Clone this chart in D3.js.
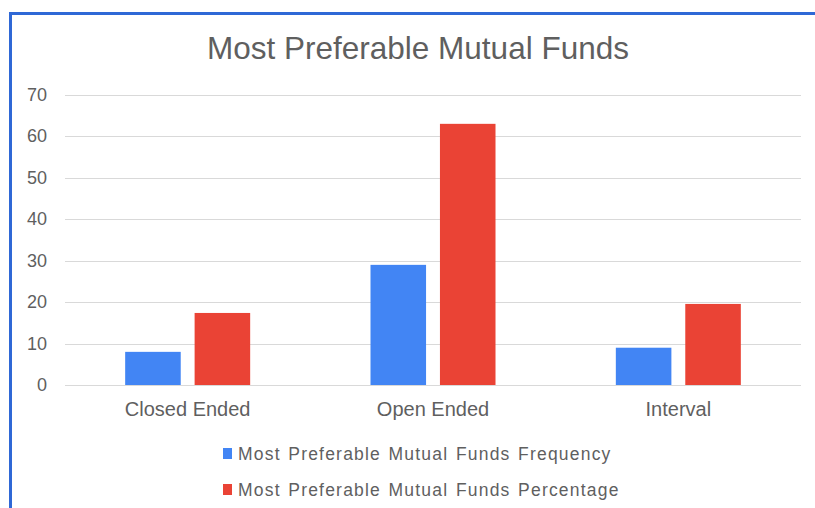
<!DOCTYPE html>
<html>
<head>
<meta charset="utf-8">
<script src="https://cdn.jsdelivr.net/npm/d3@7"></script>
<style>
  body { margin: 0; background: #fff; }
  svg { display: block; font-family: 'Liberation Sans', Arial, sans-serif; }
  .grid line { stroke: #d9d9d9; stroke-width: 1; }
  .tick-lbl { fill: #5f5f5f; font-size: 18px; }
  .cat-lbl { fill: #5f5f5f; font-size: 20px; }
  .leg-lbl { fill: #5f5f5f; font-size: 17.5px; letter-spacing: 1.2px; word-spacing: 1.5px; }
</style>
</head>
<body>
<svg id="svg" width="815" height="508"></svg>
<script>
const categories = ['Closed Ended', 'Open Ended', 'Interval']
const seriesNames = ['Most Preferable Mutual Funds Frequency', 'Most Preferable Mutual Funds Percentage']
const frequency = [8, 29, 9]
const percentage = [17.39, 63.04, 19.57]
const yTicks = [0, 10, 20, 30, 40, 50, 60, 70]
const colors = ['#4285f4', '#ea4335']

const PLOT_L = 65
const PLOT_R = 801
const PLOT_T = 95
const PLOT_B = 385

const svg = d3.select('svg')

// frame
svg.append('rect')
  .attr('x', 10.5).attr('y', 13.5)
  .attr('width', 900).attr('height', 600)
  .attr('fill', '#fff')
  .attr('stroke', '#2f68d6')
  .attr('stroke-width', 3)

svg.append('text')
  .attr('x', 418).attr('y', 59)
  .attr('text-anchor', 'middle')
  .attr('fill', '#5f5f5f')
  .style('font-size', '31.5px')
  .text('Most Preferable Mutual Funds')

const y = d3.scaleLinear().domain([0, 70]).range([PLOT_B, PLOT_T])
const x0 = d3.scaleBand().domain(categories).range([PLOT_L, PLOT_R])
const groupW = 125
const x1 = d3.scaleBand().domain([0, 1]).range([0, groupW]).paddingInner(0.2)

const grid = svg.append('g').attr('class', 'grid')
grid.selectAll('line').data(yTicks).join('line')
  .attr('x1', PLOT_L).attr('x2', PLOT_R)
  .attr('y1', d => Math.round(y(d)) + 0.5)
  .attr('y2', d => Math.round(y(d)) + 0.5)

svg.append('g').selectAll('text').data(yTicks).join('text')
  .attr('class', 'tick-lbl')
  .attr('x', 47)
  .attr('y', d => y(d) + 6)
  .attr('text-anchor', 'end')
  .text(d => d)

const rows = categories.map((c, i) => ({ cat: c, vals: [frequency[i], percentage[i]] }))

const groups = svg.append('g').selectAll('g').data(rows).join('g')
  .attr('transform', d => 'translate(' + (x0(d.cat) + (x0.bandwidth() - groupW) / 2) + ',0)')

groups.selectAll('rect').data(d => d.vals.map((v, k) => ({ v, k }))).join('rect')
  .attr('x', d => x1(d.k))
  .attr('width', x1.bandwidth())
  .attr('y', d => y(d.v))
  .attr('height', d => y(0) - y(d.v))
  .attr('fill', d => colors[d.k])

svg.append('g').selectAll('text').data(categories).join('text')
  .attr('class', 'cat-lbl')
  .attr('x', d => x0(d) + x0.bandwidth() / 2)
  .attr('y', 416)
  .attr('text-anchor', 'middle')
  .text(d => d)

const leg = svg.append('g').selectAll('g').data(seriesNames).join('g')
  .attr('transform', (d, i) => 'translate(223,' + (448 + i * 36) + ')')
leg.append('rect')
  .attr('width', 9).attr('height', 11)
  .attr('fill', (d, i) => colors[i])
leg.append('text')
  .attr('class', 'leg-lbl')
  .attr('x', 15).attr('y', 12)
  .text(d => d)
</script>
</body>
</html>
